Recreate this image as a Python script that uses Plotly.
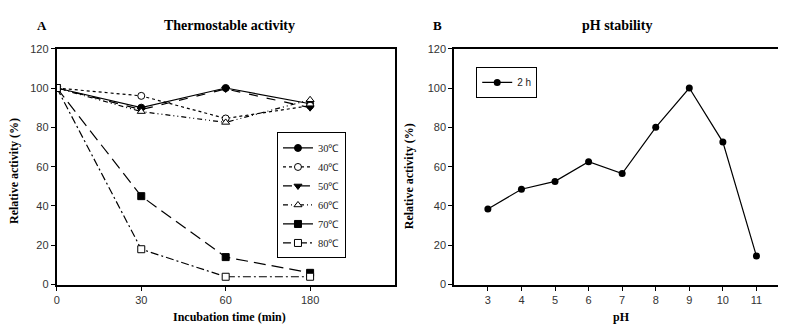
import plotly.graph_objects as go

# ---- data ----
time_labels = ["0", "30", "60", "180"]
temps = ["30℃", "40℃", "50℃", "60℃", "70℃", "80℃"]
act_30 = [100, 90, 100, 92]
act_40 = [100, 96, 84.5, 91]
act_50 = [100, 89, 99.5, 90]
act_60 = [100, 88, 82.5, 94]
act_70 = [100, 45, 14, 6]
act_80 = [100, 18, 4, 4]
ph_values = [3, 4, 5, 6, 7, 8, 9, 10, 11]
ph_activity = [38.5, 48.5, 52.5, 62.5, 56.5, 80, 100, 72.5, 14.5]
y_ticks = [0, 20, 40, 60, 80, 100, 120]

W, H = 786, 325
def px(x):
    return x / W
def py(y):
    return 1 - y / H

series = [act_30, act_40, act_50, act_60, act_70, act_80]
dashes = ["solid", "dot", "dash", "5px,3px,1px,3px,1px,3px", "12px,6px", "8px,3px,2px,3px"]
symbols = ["circle", "circle", "triangle-down", "triangle-up", "square", "square"]
fills = ["black", "white", "black", "white", "black", "white"]

fig = go.Figure()
xpos = list(range(len(time_labels)))
for name, vals, d, s, f in zip(temps, series, dashes, symbols, fills):
    fig.add_trace(go.Scatter(
        x=xpos, y=vals, name=name, mode="lines+markers",
        line=dict(color="black", width=1.2, dash=d),
        marker=dict(symbol=s, size=7, color=f, line=dict(color="black", width=1)),
        xaxis="x", yaxis="y", legend="legend",
    ))

fig.add_trace(go.Scatter(
    x=ph_values, y=ph_activity, name="2 h", mode="lines+markers",
    line=dict(color="black", width=1.2),
    marker=dict(symbol="circle", size=7, color="black"),
    xaxis="x2", yaxis="y2", legend="legend2",
))

ydom = [py(281), py(36)]
axis_common = dict(showline=True, linecolor="black", linewidth=2, mirror=True,
                   ticks="outside", ticklen=4, tickcolor="black", tickwidth=1, showgrid=False,
                   zeroline=False, tickfont=dict(family="Liberation Sans, Arial", size=11, color="#333"))

fig.update_layout(
    width=W, height=H, margin=dict(l=0, r=0, t=0, b=0),
    paper_bgcolor="white", plot_bgcolor="white",
    xaxis=dict(domain=[px(46), px(385)], range=[0, 4], tickvals=xpos, ticktext=time_labels,
               anchor="y", **axis_common),
    yaxis=dict(domain=ydom, range=[0, 120], tickvals=y_ticks, anchor="x", **axis_common),
    xaxis2=dict(domain=[px(445), px(782)], range=[2, 12], tickvals=ph_values,
                anchor="y2", **axis_common),
    yaxis2=dict(domain=ydom, range=[0, 120], tickvals=y_ticks, anchor="x2", **axis_common),
    legend=dict(x=px(267), y=py(123), xanchor="left", yanchor="top",
                bordercolor="black", borderwidth=1, bgcolor="white",
                font=dict(family="Liberation Serif, Times New Roman", size=10.5, color="#222"),
                tracegroupgap=0),
    legend2=dict(x=px(467), y=py(55), xanchor="left", yanchor="top",
                 bordercolor="black", borderwidth=1, bgcolor="white",
                 font=dict(family="Liberation Sans, Arial", size=10, color="#222")),
    showlegend=True,
)

def serif_bold(size):
    return dict(family="Liberation Serif, Times New Roman", size=size, color="black")

ann = [
    ("<b>A</b>", 31, 12, 0, 13),
    ("<b>Thermostable activity</b>", 219, 12, 0, 14),
    ("<b>B</b>", 428, 12, 0, 13),
    ("<b>pH stability</b>", 608, 12, 0, 14),
    ("<b>Incubation time (min)</b>", 219, 315, 0, 12),
    ("<b>pH</b>", 613, 315, 0, 12),
    ("<b>Relative activity (%)</b>", 3, 163, -90, 12),
    ("<b>Relative activity (%)</b>", 399, 168, -90, 12),
]
for text, x, y, ang, size in ann:
    fig.add_annotation(text=text, x=px(x), y=py(y), xref="paper", yref="paper",
                       showarrow=False, textangle=ang, font=serif_bold(size),
                       xanchor="center", yanchor="middle")

fig.write_html("out.html")
